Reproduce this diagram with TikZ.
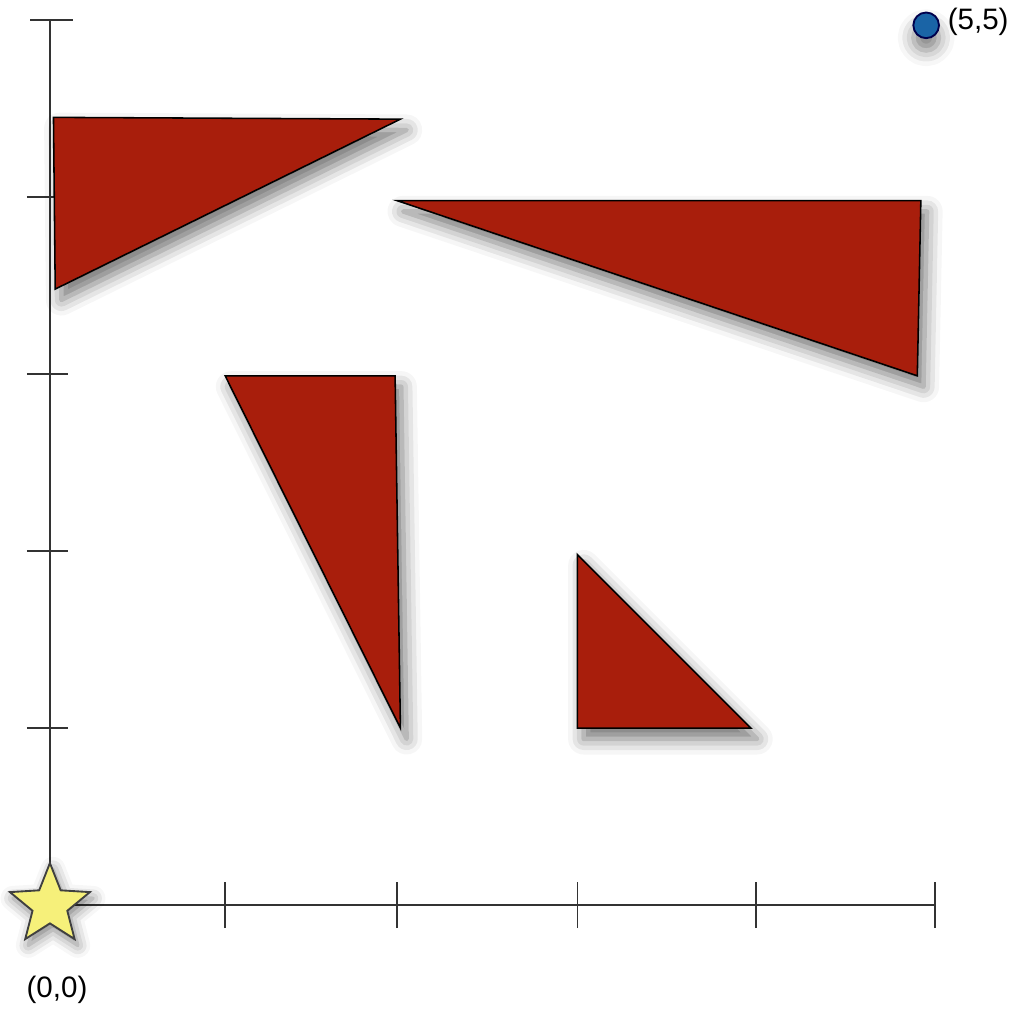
\documentclass[tikz,border=0pt]{standalone}
\usepackage{fontspec}
\setmainfont{Liberation Sans}
\usepackage{xcolor}
\definecolor{trired}{HTML}{A81E0C}
\definecolor{staryellow}{HTML}{F6F07A}
\definecolor{dotblue}{HTML}{1A64A6}
\usepackage{tikz}
\usetikzlibrary{shapes.geometric, shadows.blur}

\begin{document}
\begin{tikzpicture}[
    x=2cm, y=2cm,
    every node/.style={font=\fontsize{9.5}{11}\selectfont},
    axisline/.style={line width=0.5pt, black!80},
    tri/.style={draw=black, line width=0.5pt, fill=trired,
      blur shadow={shadow xshift=2pt, shadow yshift=-3.5pt, shadow blur radius=5pt, shadow opacity=55}},
  ]
    \useasboundingbox (-0.282, -0.582) rectangle (5.435, 5.113);
    \def\T{0.13}                           % 刻度半长
    % 坐标轴
    \coordinate (xend) at (5, 0);
    \coordinate (yend) at (0, 5);
    \draw[axisline] (0, 0) -- (xend);
    \draw[axisline] (0, 0) -- (yend);

    % x 轴刻度
    \draw[axisline] (0.99, -\T) -- (0.99, \T);
    \draw[axisline] (1.96, -\T) -- (1.96, \T);
    \draw[axisline] (2.98, -\T) -- (2.98, \T);
    \draw[axisline] (3.99, -\T) -- (3.99, \T);
    \draw[axisline] (5, -\T) -- (5, \T);

    % y 轴刻度
    \draw[axisline] (-\T, 1) -- (0.1, 1);
    \draw[axisline] (-\T, 2) -- (0.1, 2);
    \draw[axisline] (-\T, 3) -- (0.1, 3);
    \draw[axisline] (-\T, 4) -- (0.1, 4);
    \draw[axisline] (-0.11, 5) -- (0.13, 5);

    % 三角形
    \draw[tri] (0.02, 4.45) -- (1.98, 4.44) -- (0.03, 3.48) -- cycle;
    \draw[tri] (1.96, 3.98) -- (4.92, 3.98) -- (4.90, 2.99) -- cycle;
    \draw[tri] (0.99, 2.99) -- (1.95, 2.99) -- (1.98, 1.00) -- cycle;
    \draw[tri] (2.98, 1.98) -- (2.98, 1.00) -- (3.96, 1.00) -- cycle;

    % 原点的星形
    \node[star, star points=5, star point ratio=2.3, minimum size=0.95cm, inner sep=0pt,
      draw=black!75, line width=0.6pt, fill=staryellow,
      blur shadow={shadow xshift=1pt, shadow yshift=-2pt, shadow blur radius=4pt, shadow opacity=50}]
      (origin) at (0, 0) {};
    \node (originlabel) at (0.04, -0.48) {(0,0)};

    % (5,5) 处的圆点
    \node[circle, minimum size=0.29cm, inner sep=0pt, draw=black!70!blue, line width=0.6pt, fill=dotblue,
      blur shadow={shadow xshift=0pt, shadow yshift=-4pt, shadow blur radius=5pt, shadow opacity=50}]
      (corner) at (4.95, 4.97) {};
    \node[anchor=west] (cornerlabel) at (5.01, 4.99) {(5,5)};
  \end{tikzpicture}
\end{document}
